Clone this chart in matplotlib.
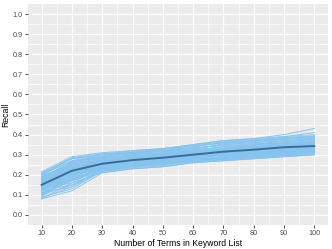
import matplotlib
matplotlib.use("Agg")
import matplotlib.pyplot as plt
import numpy as np

plt.rcParams['font.family'] = ['Liberation Sans', 'DejaVu Sans']

terms = [10, 20, 30, 40, 50, 60, 70, 80, 90, 100]
mean_recall = [0.150, 0.220, 0.255, 0.273, 0.285, 0.300, 0.315, 0.325, 0.337, 0.343]

run01 = [0.08, 0.12, 0.21, 0.23, 0.24, 0.26, 0.27, 0.28, 0.29, 0.30]
run02 = [0.09, 0.13, 0.22, 0.24, 0.25, 0.27, 0.28, 0.29, 0.30, 0.31]
run03 = [0.10, 0.15, 0.22, 0.25, 0.26, 0.28, 0.29, 0.30, 0.31, 0.32]
run04 = [0.11, 0.17, 0.23, 0.25, 0.27, 0.28, 0.30, 0.31, 0.32, 0.33]
run05 = [0.12, 0.19, 0.24, 0.26, 0.27, 0.29, 0.30, 0.31, 0.33, 0.34]
run06 = [0.13, 0.20, 0.24, 0.27, 0.28, 0.29, 0.31, 0.32, 0.33, 0.34]
run07 = [0.14, 0.21, 0.25, 0.27, 0.28, 0.30, 0.31, 0.32, 0.34, 0.35]
run08 = [0.15, 0.22, 0.25, 0.27, 0.29, 0.30, 0.32, 0.33, 0.34, 0.35]
run09 = [0.16, 0.23, 0.26, 0.28, 0.29, 0.31, 0.32, 0.33, 0.35, 0.36]
run10 = [0.17, 0.24, 0.27, 0.29, 0.30, 0.31, 0.33, 0.34, 0.35, 0.36]
run11 = [0.18, 0.25, 0.27, 0.29, 0.30, 0.32, 0.33, 0.35, 0.36, 0.37]
run12 = [0.19, 0.26, 0.28, 0.30, 0.31, 0.32, 0.34, 0.35, 0.37, 0.38]
run13 = [0.20, 0.27, 0.29, 0.31, 0.32, 0.33, 0.35, 0.36, 0.38, 0.39]
run14 = [0.21, 0.28, 0.30, 0.31, 0.32, 0.34, 0.36, 0.37, 0.39, 0.41]
run15 = [0.215, 0.29, 0.31, 0.32, 0.33, 0.35, 0.37, 0.38, 0.40, 0.43]
run16 = [0.20, 0.24, 0.26, 0.27, 0.28, 0.29, 0.30, 0.31, 0.32, 0.33]
run17 = [0.19, 0.22, 0.25, 0.26, 0.27, 0.28, 0.29, 0.30, 0.31, 0.32]
run18 = [0.18, 0.21, 0.24, 0.26, 0.27, 0.28, 0.30, 0.31, 0.32, 0.33]
run19 = [0.17, 0.20, 0.23, 0.25, 0.26, 0.27, 0.28, 0.29, 0.30, 0.31]
run20 = [0.16, 0.19, 0.22, 0.24, 0.25, 0.27, 0.28, 0.29, 0.30, 0.31]
run21 = [0.15, 0.18, 0.23, 0.25, 0.27, 0.28, 0.30, 0.31, 0.32, 0.34]
run22 = [0.14, 0.17, 0.22, 0.24, 0.26, 0.27, 0.29, 0.30, 0.31, 0.33]
run23 = [0.13, 0.16, 0.21, 0.23, 0.24, 0.26, 0.27, 0.28, 0.29, 0.30]
run24 = [0.12, 0.15, 0.22, 0.25, 0.26, 0.28, 0.29, 0.31, 0.32, 0.33]
run25 = [0.11, 0.14, 0.23, 0.26, 0.27, 0.29, 0.30, 0.32, 0.33, 0.35]
run26 = [0.10, 0.19, 0.25, 0.27, 0.28, 0.30, 0.31, 0.33, 0.34, 0.35]
run27 = [0.09, 0.21, 0.26, 0.28, 0.29, 0.31, 0.32, 0.33, 0.35, 0.36]
run28 = [0.12, 0.23, 0.27, 0.29, 0.30, 0.32, 0.34, 0.35, 0.36, 0.38]
run29 = [0.14, 0.25, 0.28, 0.30, 0.31, 0.33, 0.35, 0.36, 0.37, 0.38]
run30 = [0.16, 0.26, 0.29, 0.31, 0.32, 0.34, 0.36, 0.37, 0.38, 0.39]
run31 = [0.18, 0.27, 0.30, 0.31, 0.33, 0.35, 0.37, 0.38, 0.39, 0.40]
run32 = [0.20, 0.28, 0.30, 0.32, 0.33, 0.34, 0.36, 0.37, 0.38, 0.39]
run33 = [0.13, 0.22, 0.26, 0.28, 0.29, 0.30, 0.31, 0.32, 0.34, 0.36]
run34 = [0.15, 0.24, 0.27, 0.28, 0.29, 0.30, 0.32, 0.33, 0.34, 0.37]
run35 = [0.17, 0.23, 0.26, 0.27, 0.28, 0.29, 0.31, 0.32, 0.33, 0.35]
run36 = [0.19, 0.25, 0.27, 0.28, 0.29, 0.31, 0.32, 0.33, 0.35, 0.36]
run37 = [0.11, 0.20, 0.25, 0.26, 0.27, 0.29, 0.30, 0.31, 0.32, 0.34]
run38 = [0.08, 0.16, 0.24, 0.26, 0.28, 0.30, 0.31, 0.32, 0.33, 0.34]
run39 = [0.14, 0.22, 0.26, 0.28, 0.30, 0.31, 0.32, 0.34, 0.35, 0.35]
run40 = [0.16, 0.21, 0.25, 0.27, 0.28, 0.30, 0.31, 0.32, 0.33, 0.34]
run41 = [0.085, 0.14, 0.22, 0.245, 0.255, 0.275, 0.285, 0.295, 0.305, 0.315]
run42 = [0.105, 0.18, 0.235, 0.255, 0.265, 0.285, 0.295, 0.305, 0.315, 0.325]
run43 = [0.125, 0.20, 0.245, 0.265, 0.275, 0.295, 0.305, 0.315, 0.325, 0.335]
run44 = [0.145, 0.215, 0.255, 0.275, 0.285, 0.305, 0.315, 0.325, 0.335, 0.345]
run45 = [0.165, 0.235, 0.265, 0.285, 0.295, 0.315, 0.325, 0.335, 0.345, 0.355]
run46 = [0.185, 0.255, 0.275, 0.295, 0.305, 0.325, 0.335, 0.345, 0.355, 0.365]
run47 = [0.205, 0.265, 0.285, 0.305, 0.315, 0.335, 0.345, 0.355, 0.365, 0.375]
run48 = [0.195, 0.235, 0.255, 0.265, 0.275, 0.285, 0.295, 0.305, 0.315, 0.325]
run49 = [0.175, 0.215, 0.245, 0.255, 0.265, 0.275, 0.285, 0.295, 0.305, 0.315]
run50 = [0.155, 0.195, 0.235, 0.255, 0.265, 0.275, 0.285, 0.295, 0.305, 0.320]
run51 = [0.135, 0.185, 0.225, 0.245, 0.255, 0.265, 0.275, 0.285, 0.295, 0.305]
run52 = [0.115, 0.225, 0.265, 0.285, 0.295, 0.305, 0.325, 0.335, 0.345, 0.355]
run53 = [0.095, 0.175, 0.235, 0.265, 0.285, 0.295, 0.305, 0.315, 0.325, 0.335]
run54 = [0.175, 0.245, 0.285, 0.295, 0.305, 0.315, 0.325, 0.345, 0.355, 0.365]
run55 = [0.145, 0.265, 0.295, 0.305, 0.315, 0.325, 0.355, 0.365, 0.375, 0.385]
run56 = [0.205, 0.285, 0.305, 0.315, 0.325, 0.345, 0.365, 0.375, 0.385, 0.395]
run57 = [0.125, 0.175, 0.215, 0.235, 0.245, 0.265, 0.275, 0.285, 0.295, 0.300]
run58 = [0.165, 0.225, 0.255, 0.265, 0.275, 0.295, 0.305, 0.315, 0.325, 0.340]
run59 = [0.185, 0.205, 0.235, 0.255, 0.265, 0.285, 0.295, 0.305, 0.315, 0.330]
run60 = [0.135, 0.235, 0.275, 0.285, 0.295, 0.315, 0.325, 0.335, 0.345, 0.360]

runs = [run01, run02, run03, run04, run05, run06, run07, run08, run09, run10,
        run11, run12, run13, run14, run15, run16, run17, run18, run19, run20,
        run21, run22, run23, run24, run25, run26, run27, run28, run29, run30,
        run31, run32, run33, run34, run35, run36, run37, run38, run39, run40,
        run41, run42, run43, run44, run45, run46, run47, run48, run49, run50,
        run51, run52, run53, run54, run55, run56, run57, run58, run59, run60]

x_ticks = [10, 20, 30, 40, 50, 60, 70, 80, 90, 100]
y_ticks = [0.0, 0.1, 0.2, 0.3, 0.4, 0.5, 0.6, 0.7, 0.8, 0.9, 1.0]

fig = plt.figure(figsize=(3.32, 2.49), dpi=100)
ax = fig.add_axes([28/332, 1 - 225/249, 300/332, 221/249])
ax.set_facecolor('#EBEBEB')
for s in ax.spines.values():
    s.set_visible(False)

ax.set_xlim(5.5, 104.5)
ax.set_ylim(-0.05, 1.05)
ax.set_xticks(x_ticks)
ax.set_yticks(y_ticks)
ax.set_xticklabels([str(v) for v in x_ticks])
ax.set_yticklabels([f"{v:.1f}" for v in y_ticks])
ax.set_xticks([15, 25, 35, 45, 55, 65, 75, 85, 95], minor=True)
ax.set_yticks([0.05, 0.15, 0.25, 0.35, 0.45, 0.55, 0.65, 0.75, 0.85, 0.95], minor=True)
ax.grid(True, which='major', color='white', linewidth=0.9)
ax.grid(True, which='minor', color='white', linewidth=0.45)
ax.set_axisbelow(True)
ax.tick_params(which='major', length=2.2, width=0.6, color='#333333',
               labelsize=5.2, labelcolor='#4D4D4D', pad=1.5)
ax.tick_params(which='minor', length=0)

for r in runs:
    ax.plot(terms, r, color='#86C3EE', alpha=0.9, linewidth=0.75)
ax.plot(terms, mean_recall, color='#3A6D97', linewidth=1.4)

ax.set_xlabel('Number of Terms in Keyword List', fontsize=6.2, labelpad=1.5)
ax.set_ylabel('Recall', fontsize=6.2, labelpad=1.5)

fig.savefig('out.png', dpi=100)
